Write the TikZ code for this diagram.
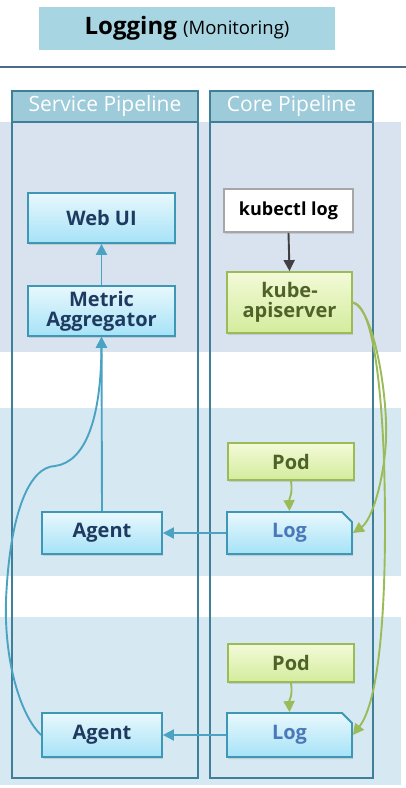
\documentclass[tikz,border=0pt]{standalone}
\usepackage{fontspec}
\setmainfont{Open Sans}
\usetikzlibrary{shapes.misc,arrows.meta,shadows}
\definecolor{bandA}{HTML}{D9E2EF}
\definecolor{bandB}{HTML}{D6E8F2}
\definecolor{titlefill}{HTML}{A8D5E2}
\definecolor{rulecol}{HTML}{4A6C8A}
\definecolor{colborder}{HTML}{3F7F98}
\definecolor{headfill}{HTML}{9DCBD9}
\definecolor{bluetop}{HTML}{E8F8FD}
\definecolor{bluebot}{HTML}{A6E2F7}
\definecolor{blueborder}{HTML}{3E97B4}
\definecolor{navy}{HTML}{1F3A60}
\definecolor{logtext}{HTML}{4A78B8}
\definecolor{greentop}{HTML}{F3FAD8}
\definecolor{greenbot}{HTML}{D3EC9C}
\definecolor{greenborder}{HTML}{9BBB59}
\definecolor{greentext}{HTML}{4F6228}
\definecolor{arrowblue}{HTML}{4BA3C3}
\definecolor{darkarrow}{HTML}{404040}
\tikzset{
  boxbase/.style={line width=1.8pt, inner sep=0pt, align=center,
    font=\fontsize{20}{22}\selectfont\bfseries,
    drop shadow={opacity=0.25, shadow xshift=1pt, shadow yshift=-2pt}},
  bluebox/.style={boxbase, draw=blueborder, top color=bluetop, bottom color=bluebot, text=navy},
  logbox/.style={bluebox, text=logtext, chamfered rectangle, chamfered rectangle corners=north east,
    chamfered rectangle xsep=5pt, chamfered rectangle ysep=5pt},
  greenbox/.style={boxbase, draw=greenborder, top color=greentop, bottom color=greenbot, text=greentext},
  whitebox/.style={boxbase, draw=gray!70, fill=white, text=black, font=\fontsize{18}{21}\selectfont\bfseries},
  headbox/.style={draw=colborder, line width=1.8pt, fill=headfill, text=white, inner sep=0pt,
    font=\fontsize{21}{24}\selectfont},
  bluearrow/.style={draw=arrowblue, line width=1.9pt, -{Triangle[width=11pt,length=11pt]}},
  greenarrow/.style={draw=greenborder, line width=1.9pt, -{Triangle[width=11pt,length=11pt]}},
  darkarrowstyle/.style={draw=darkarrow, line width=1.9pt, -{Triangle[width=11pt,length=11pt]}}
}
\begin{document}
\begin{tikzpicture}[x=1pt,y=-1pt]
\useasboundingbox (0,0) rectangle (406,788);
\fill[white] (0,0) rectangle (406,788);
% bands
\fill[bandA] (0,122) rectangle (401,352);
\fill[bandB] (0,408) rectangle (401,576);
\fill[bandB] (0,617) rectangle (401,785);
% title
\node[fill=titlefill, minimum width=296, minimum height=43, inner sep=0pt] (title) at (187,28.5)
  {\raisebox{-3pt}{\fontsize{24}{28}\selectfont\bfseries Logging\ \fontsize{18.5}{22}\selectfont\mdseries (Monitoring)}};
\coordinate (ruleL) at (0,67);
\coordinate (ruleR) at (406,67);
\draw[rulecol, line width=2.2pt] (ruleL) -- (ruleR);
% columns
\draw[colborder, line width=1.8pt] (12,91) rectangle (198,778);
\draw[colborder, line width=1.8pt] (210,91) rectangle (373,778);
\node[headbox, minimum width=186, minimum height=31] (svc) at (105,106.5) {\raisebox{-1.5pt}{Service Pipeline}};
\node[headbox, minimum width=163, minimum height=31] (core) at (291.5,106.5) {\raisebox{-1.5pt}{Core Pipeline}};
% nodes
\node[bluebox, minimum width=147, minimum height=50] (webui) at (101.5,218) {Web UI};
\node[bluebox, minimum width=147, minimum height=50] (metric) at (101.5,311) {Metric\\[-2pt]Aggregator};
\node[whitebox, minimum width=129, minimum height=43] (kubectl) at (288.5,210.5) {kubectl log};
\node[greenbox, minimum width=125, minimum height=61] (kubeapi) at (289.5,302.5) {kube-\\[-2pt]apiserver};
\node[greenbox, minimum width=126, minimum height=37] (pod1) at (291,461.5) {Pod};
\node[logbox, minimum width=125, minimum height=42] (log1) at (289.5,533) {\raisebox{-3pt}{Log}};
\node[bluebox, minimum width=120, minimum height=42] (agent1) at (102,533) {Agent};
\node[greenbox, minimum width=126, minimum height=38] (pod2) at (291,663) {Pod};
\node[logbox, minimum width=125, minimum height=44] (log2) at (289.5,735) {\raisebox{-3pt}{Log}};
\node[bluebox, minimum width=120, minimum height=44] (agent2) at (102,735) {Agent};
% connectors
\draw[darkarrowstyle] (kubectl.south) -- (kubeapi.north);
\draw[bluearrow] (metric.north) -- (webui.south);
\draw[bluearrow] (agent1.north) -- (metric.south);
\draw[bluearrow] (agent2.west) .. controls (20,715) and (4,660) .. (6,600)
  .. controls (10,510) and (30,467) .. (55,466)
  .. controls (85,462) and (101,420) .. (metric.south);
\draw[bluearrow] (log1.west) -- (agent1.east);
\draw[bluearrow] (log2.west) -- (agent2.east);
\draw[greenarrow] (pod1.south) .. controls (293,495) and (289,498) .. (log1.north);
\draw[greenarrow] (pod2.south) .. controls (293,697) and (289,700) .. (log2.north);
\draw[greenarrow] (kubeapi.east) .. controls (375,310) and (388,400) .. (386,440)
  .. controls (384,480) and (372,520) .. (log1.east);
\draw[greenarrow] (kubeapi.east) .. controls (372,305) and (381,380) .. (384,460)
  .. controls (388,600) and (380,700) .. (log2.east);
\end{tikzpicture}
\end{document}
